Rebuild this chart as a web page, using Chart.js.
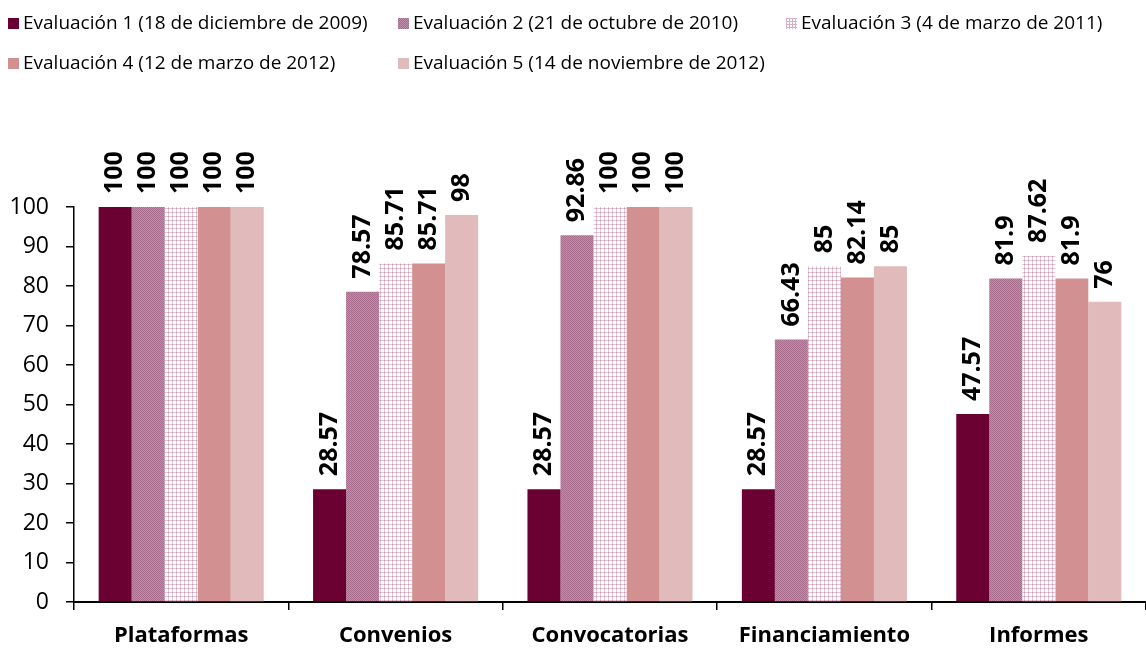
<!DOCTYPE html>
<html>
<head>
<meta charset="utf-8">
<script src="https://cdn.jsdelivr.net/npm/chart.js@4.4.1/dist/chart.umd.min.js"></script>
<style>
  body { margin: 0; background: #fff; }
  #wrap { position: relative; width: 1146px; height: 648px; }
  #chart { position: absolute; left: 0; top: 0; }
  .legend { position: absolute; left: 0; top: 0; font-family: "Open Sans", sans-serif; font-size: 19px; color: #000; }
  .item { position: absolute; white-space: nowrap; line-height: 22px; }
  .box { display: inline-block; width: 11px; height: 11px; margin-right: 4px; vertical-align: 0px; }
</style>
</head>
<body>
<div id="wrap">
  <canvas id="chart" width="1146" height="648"></canvas>
  <div class="legend" id="legend"></div>
</div>
<script>
var categories = ["Plataformas", "Convenios", "Convocatorias", "Financiamiento", "Informes"];
var seriesNames = [
    "Evaluación 1 (18 de diciembre de 2009)",
    "Evaluación 2 (21 de octubre de 2010)",
    "Evaluación 3 (4 de marzo de 2011)",
    "Evaluación 4 (12 de marzo de 2012)",
    "Evaluación 5 (14 de noviembre de 2012)"
];
var eval1 = [100, 28.57, 28.57, 28.57, 47.57];
var eval2 = [100, 78.57, 92.86, 66.43, 81.9];
var eval3 = [100, 85.71, 100, 85, 87.62];
var eval4 = [100, 85.71, 100, 82.14, 81.9];
var eval5 = [100, 98, 100, 85, 76];
var yTicks = [0, 10, 20, 30, 40, 50, 60, 70, 80, 90, 100];

// small tiled fills for the 2nd and 3rd series
function makePattern(size, paint) {
    var c = document.createElement("canvas");
    c.width = size; c.height = size;
    var g = c.getContext("2d");
    paint(g);
    return g.createPattern(c, "repeat");
}
var ctx = document.getElementById("chart").getContext("2d");
var checker = makePattern(2, function(g) {
    g.fillStyle = "#BC8EA7"; g.fillRect(0, 0, 2, 2);
    g.fillStyle = "#A86C8C"; g.fillRect(0, 0, 1, 1); g.fillRect(1, 1, 1, 1);
});
var grid = makePattern(4, function(g) {
    g.fillStyle = "#ffffff"; g.fillRect(0, 0, 4, 4);
    g.fillStyle = "#E6C6D4"; g.fillRect(0, 0, 4, 1); g.fillRect(0, 0, 1, 4);
    g.fillStyle = "#C896AD"; g.fillRect(0, 0, 1, 1);
});

var fills = ["#6B0033", checker, grid, "#D29190", "#E1BBBB"];
var legendCss = [
    "background:#6B0033",
    "background:repeating-conic-gradient(#A86C8C 0 25%, #BC8EA7 0 50%) 0 0/2px 2px",
    "background-color:#fff;background-image:linear-gradient(#D8AFC2 1px, transparent 1px),linear-gradient(90deg, #D8AFC2 1px, transparent 1px);background-size:3px 3px",
    "background:#D29190",
    "background:#E1BBBB"
];
var legendPos = [[8, 11], [398, 11], [786, 11], [8, 51], [398, 51]];

var values = [eval1, eval2, eval3, eval4, eval5];
var datasets = values.map(function(v, i) {
    return {
        label: seriesNames[i],
        data: v,
        backgroundColor: fills[i],
        borderWidth: 0,
        categoryPercentage: 0.77,
        barPercentage: 1.0
    };
});

// legend laid out in columns
var lg = document.getElementById("legend");
seriesNames.forEach(function(name, i) {
    var d = document.createElement("div");
    d.className = "item";
    d.style.left = legendPos[i][0] + "px";
    d.style.top = legendPos[i][1] + "px";
    d.innerHTML = '<span class="box" style="' + legendCss[i] + '"></span>' + name;
    lg.appendChild(d);
});

// vertical value labels above each bar
var barValues = {
    id: "barValues",
    afterDatasetsDraw: function(chart) {
        var c = chart.ctx;
        c.save();
        c.font = "bold 25px 'Open Sans', sans-serif";
        c.fillStyle = "#000";
        c.textAlign = "left";
        c.textBaseline = "middle";
        chart.data.datasets.forEach(function(ds, i) {
            chart.getDatasetMeta(i).data.forEach(function(bar, j) {
                c.save();
                c.translate(bar.x, bar.y - 13);
                c.rotate(-Math.PI / 2);
                c.fillText(String(ds.data[j]), 0, 0);
                c.restore();
            });
        });
        c.restore();
    }
};

var myBarChart = new Chart(ctx, {
    type: "bar",
    data: { labels: categories, datasets: datasets },
    options: {
        responsive: false,
        animation: false,
        layout: { padding: { top: 207, left: 0, right: 0, bottom: 0 } },
        plugins: { legend: { display: false }, tooltip: { enabled: false } },
        scales: {
            x: {
                afterFit: function(axis) { axis.height = 46; },
                grid: { drawOnChartArea: false, offset: true, tickLength: 8, color: "#000", lineWidth: 1.5 },
                border: { color: "#000", width: 2 },
                ticks: { padding: 13, color: "#000", font: { family: "'Open Sans', sans-serif", size: 22, weight: "bold" } }
            },
            y: {
                min: 0,
                max: 100,
                afterFit: function(axis) { axis.width = 74; },
                afterBuildTicks: function(axis) {
                    axis.ticks = yTicks.map(function(v) { return { value: v }; });
                },
                grid: { drawOnChartArea: false, tickLength: 8, color: "#000", lineWidth: 1.5 },
                border: { color: "#000", width: 1.5 },
                ticks: { padding: 17, color: "#000", font: { family: "'Open Sans', sans-serif", size: 23 } }
            }
        }
    },
    plugins: [barValues]
});
</script>
</body>
</html>
